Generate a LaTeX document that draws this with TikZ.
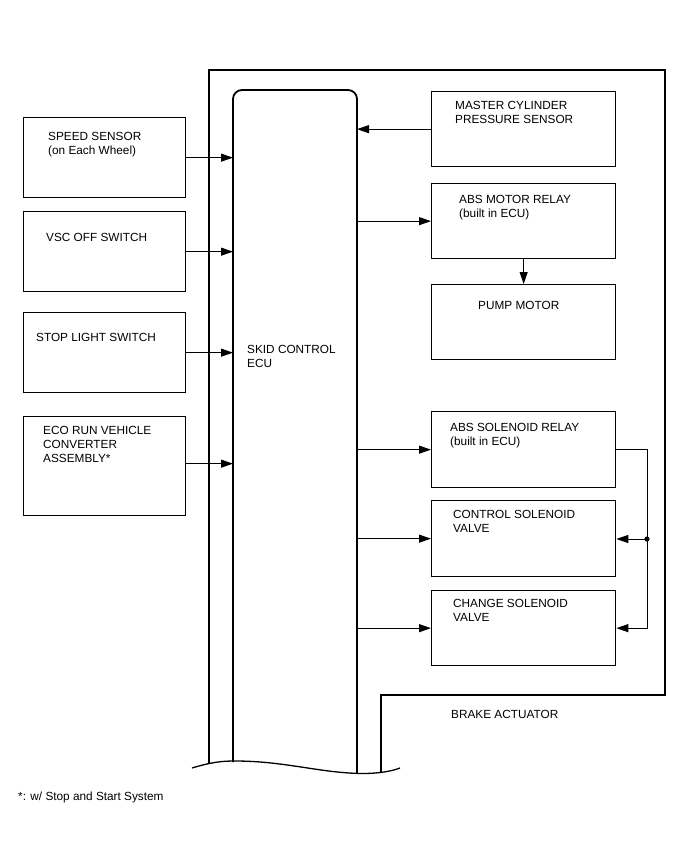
\documentclass[tikz,border=0pt]{standalone}
\usepackage{fontspec}
\setmainfont{Liberation Sans}
\usetikzlibrary{arrows.meta}
\begin{document}
\begin{tikzpicture}[x=1pt,y=-1pt,
  box/.style={draw,line width=1.3pt,minimum width=162pt,minimum height=80pt,anchor=north west,inner sep=0pt},
  rbox/.style={draw,line width=1.3pt,minimum width=184pt,minimum height=75pt,anchor=north west,inner sep=0pt},
  thick line/.style={line width=1.8pt},
  conn/.style={line width=1pt},
  arr/.style={conn,-{Triangle[length=12pt,width=8pt]}},
  txt/.style={anchor=base west,inner sep=0pt,font=\fontsize{11.8}{14}\selectfont}]
\useasboundingbox (0,0) rectangle (688,852);
% outer brake actuator frame
\draw[thick line] (209,764) -- (209,70) -- (665,70) -- (665,695) -- (381,695) -- (381,772.5);
% skid control ECU
\draw[thick line,rounded corners=9pt] (233,762) -- (233,90) -- (357,90) -- (357,773.5);
\coordinate (ecuL) at (233,0);
\coordinate (ecuR) at (357,0);
% wavy cut line
\draw[line width=1.3pt] (192,768) .. controls (212,762) and (222,761) .. (235,761)
  .. controls (285,761) and (320,773) .. (362,773.5)
  .. controls (380,773.5) and (392,771) .. (400,768);
% left boxes
\node[box] (ss) at (23,117) {};
\node[box] (vsc) at (23,211) {};
\node[box] (stp) at (23,312) {};
\node[box,minimum height=99pt] (eco) at (23,416) {};
\node[txt] (ssA) at (48,140) {SPEED SENSOR};
\node[txt] (ssB) at (48,154) {(on Each Wheel)};
\node[txt] (vscA) at (46,241) {VSC OFF SWITCH};
\node[txt] (stpA) at (36,341) {STOP LIGHT SWITCH};
\node[txt] (ecoA) at (43,434) {ECO RUN VEHICLE};
\node[txt] (ecoB) at (43,448) {CONVERTER};
\node[txt] (ecoC) at (43,462) {ASSEMBLY*};
% ECU label
\node[txt] (ecuA) at (247,353) {SKID CONTROL};
\node[txt] (ecuB) at (247,367) {ECU};
% right boxes
\node[rbox] (mc) at (431,91) {};
\node[rbox] (amr) at (431,183) {};
\node[rbox] (pm) at (431,284) {};
\node[rbox,minimum height=76pt] (asr) at (431,411) {};
\node[rbox,minimum height=76pt] (csv) at (431,500) {};
\node[rbox] (cgv) at (431,590) {};
\node[txt] (mcA) at (455,109) {MASTER CYLINDER};
\node[txt] (mcB) at (455,123) {PRESSURE SENSOR};
\node[txt] (amrA) at (459,203) {ABS MOTOR RELAY};
\node[txt] (amrB) at (459,217) {(built in ECU)};
\node[txt] (pmA) at (478,309) {PUMP MOTOR};
\node[txt] (asrA) at (450,431) {ABS SOLENOID RELAY};
\node[txt] (asrB) at (450,445) {(built in ECU)};
\node[txt] (csvA) at (453,518) {CONTROL SOLENOID};
\node[txt] (csvB) at (453,532) {VALVE};
\node[txt] (cgvA) at (453,607) {CHANGE SOLENOID};
\node[txt] (cgvB) at (453,621) {VALVE};
\node[txt] (ba) at (451,718) {BRAKE ACTUATOR};
\node[txt] (note) at (18,800) {*: w/ Stop and Start System};
% connectors: inputs to ECU
\draw[arr] (ss.east) -- (ss.east -| ecuL);
\draw[arr] (vsc.east) -- (vsc.east -| ecuL);
\draw[arr] (stp.east) -- (stp.east -| ecuL);
\coordinate (ecoOut) at ([yshift=2.5pt]eco.east);
\draw[arr] (ecoOut) -- (ecoOut -| ecuL);
\draw[arr] (mc.west) -- (mc.west -| ecuR);
% outputs from ECU
\draw[arr] (amr.west -| ecuR) -- (amr.west);
\draw[arr] (asr.west -| ecuR) -- (asr.west);
\draw[arr] (csv.west -| ecuR) -- (csv.west);
\draw[arr] (cgv.west -| ecuR) -- (cgv.west);
\draw[arr] (amr.south) -- (pm.north);
% solenoid relay to valves
\coordinate (j) at (647,539);
\draw[arr] (asr.east) -| (j |- cgv.east) -- (cgv.east);
\draw[arr] (j) -- (j -| csv.east);
\fill (j) circle (2.6pt);
\end{tikzpicture}
\end{document}
